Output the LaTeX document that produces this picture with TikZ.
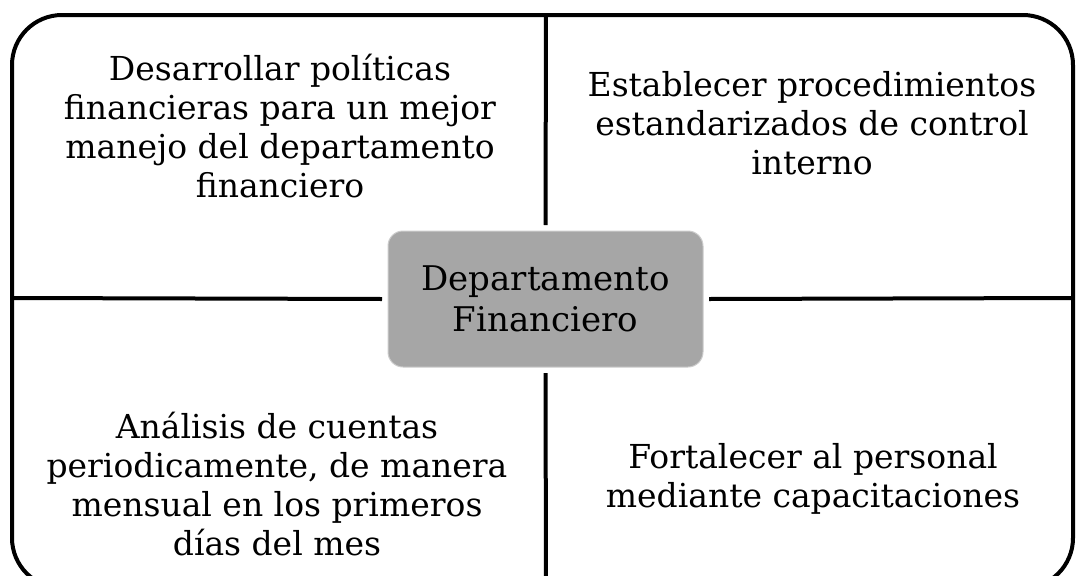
\documentclass[tikz,border=0pt]{standalone}
\usepackage{fontspec}
\setmainfont{DejaVu Serif}
\begin{document}
\begin{tikzpicture}[x=1pt,y=-1pt,
   txt/.style={align=center,font=\fontsize{33}{39}\selectfont},
   hub/.style={rounded corners=15pt,fill=black!35,draw=black!20,line width=1pt,
               minimum width=315pt,minimum height=136pt,outer sep=6pt,
               align=center,font=\fontsize{34}{41}\selectfont},
   rule/.style={line width=4pt}]
   \useasboundingbox (0,0) rectangle (1077,576);
   \draw[rule,rounded corners=50pt] (12,15) rectangle (1073,588);
   \node[hub] (dept) at (545.5,299) {Departamento\\Financiero};
   \coordinate (n) at (546,15);
   \coordinate (s) at (546,588);
   \coordinate (w) at (12,298);
   \coordinate (e) at (1073,298);
   \foreach \c/\a in {n/north,s/south,w/west,e/east}
     \draw[rule] (\c) -- (dept.\a);
   \node[txt] (tl) at (280,126) {Desarrollar políticas\\financieras para un mejor\\manejo del departamento\\financiero};
   \node[txt] (tr) at (812,123) {Establecer procedimientos\\estandarizados de control\\interno};
   \node[txt] (bl) at (277,484) {Análisis de cuentas\\periodicamente, de manera\\mensual en los primeros\\días del mes};
   \node[txt] (br) at (813,479) {Fortalecer al personal\\mediante capacitaciones};
\end{tikzpicture}
\end{document}
